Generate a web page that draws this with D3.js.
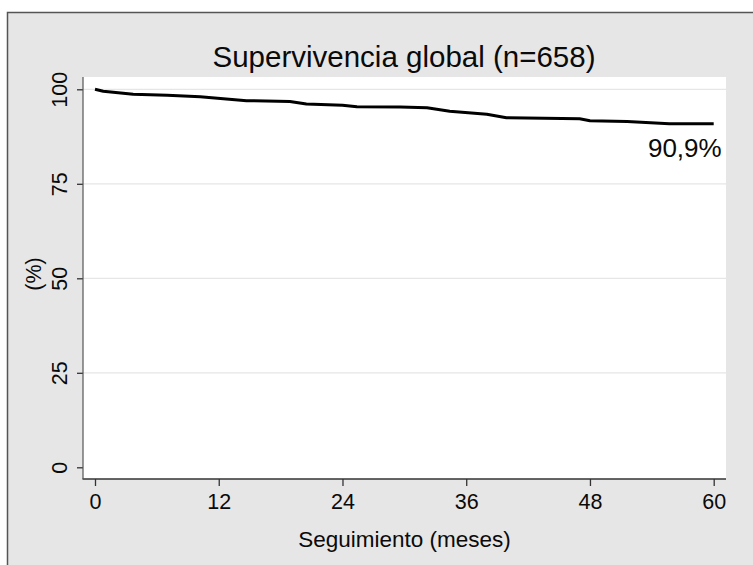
<!DOCTYPE html>
<html>
<head>
<meta charset="utf-8">
<script src="https://cdn.jsdelivr.net/npm/d3@7"></script>
<style>
body { margin: 0; background: #fff; }
text { font-family: "Liberation Sans", Arial, Helvetica, sans-serif; fill: #0a0a0a; }
</style>
</head>
<body>
<div id="chart"></div>
<script>
// survival curve
var months = [0, 0.8, 3.7, 7, 10.2, 14.7, 18.9, 20.5, 24, 25.4, 29.6, 32.2, 34.4, 38, 39.9, 47, 48, 51.6, 55.7, 60];
var survival = [100, 99.5, 98.7, 98.4, 98.0, 97.0, 96.8, 96.1, 95.8, 95.4, 95.3, 95.1, 94.2, 93.4, 92.5, 92.2, 91.7, 91.5, 90.9, 90.9];
var xTicks = [0, 12, 24, 36, 48, 60];
var yTicks = [0, 25, 50, 75, 100];
var gridTicks = [25, 50, 75, 100];
var title = 'Supervivencia global (n=658)';
var xTitle = 'Seguimiento (meses)';
var yTitle = '(%)';
var endLabel = '90,9%';

var data = months.map(function(m, i) { return { t: m, s: survival[i] }; });

var svg = d3.select('#chart').append('svg').attr('width', 753).attr('height', 565);

// graph region
svg.append('rect')
	.attr('x', 7.5).attr('y', 12.5)
	.attr('width', 760).attr('height', 570)
	.attr('fill', '#e6e6e6')
	.attr('stroke', '#555')
	.attr('stroke-width', 1.5);

var plot = { left: 83, right: 726, top: 77, bottom: 479 };

svg.append('rect')
	.attr('x', plot.left).attr('y', plot.top)
	.attr('width', plot.right - plot.left).attr('height', plot.bottom - plot.top)
	.attr('fill', '#fff');

var xScale = d3.scaleLinear().domain([0, 60]).range([95, 713.7]);
var yScale = d3.scaleLinear().domain([0, 100]).range([467.3, 89.3]);

// grid
svg.append('g').selectAll('line')
	.data(gridTicks)
	.enter().append('line')
	.attr('x1', plot.left).attr('x2', plot.right)
	.attr('y1', function(d) { return yScale(d); })
	.attr('y2', function(d) { return yScale(d); })
	.attr('stroke', '#e6e6e6')
	.attr('stroke-width', 1.2);

// axes
var xAxis = d3.axisBottom(xScale).tickValues(xTicks).tickSize(7).tickPadding(8).tickSizeOuter(0);
var yAxis = d3.axisLeft(yScale).tickValues(yTicks).tickSize(6).tickSizeOuter(0);

var xAxisG = svg.append('g')
	.attr('transform', 'translate(0,' + plot.bottom + ')')
	.call(xAxis);
xAxisG.select('.domain').remove();
xAxisG.selectAll('line').attr('stroke', '#333').attr('stroke-width', 1.3);
xAxisG.selectAll('text')
	.attr('font-size', 21.5)
	.attr('fill', '#0a0a0a')
	.attr('dy', '0.71em');

var yAxisG = svg.append('g')
	.attr('transform', 'translate(' + plot.left + ',0)')
	.call(yAxis);
yAxisG.select('.domain').remove();
yAxisG.selectAll('line').attr('stroke', '#333').attr('stroke-width', 1.3);
yAxisG.selectAll('.tick text')
	.attr('font-size', 21.5)
	.attr('fill', '#0a0a0a')
	.attr('x', null).attr('y', null).attr('dy', null)
	.attr('text-anchor', 'middle')
	.attr('transform', 'translate(-16,0) rotate(-90)');

svg.append('line')
	.attr('x1', plot.left - 0.5).attr('x2', plot.right)
	.attr('y1', plot.bottom).attr('y2', plot.bottom)
	.attr('stroke', '#333').attr('stroke-width', 1.5);
svg.append('line')
	.attr('x1', plot.left).attr('x2', plot.left)
	.attr('y1', plot.top).attr('y2', plot.bottom)
	.attr('stroke', '#555').attr('stroke-width', 1.2);

// curve
var line = d3.line()
	.x(function(d) { return xScale(d.t); })
	.y(function(d) { return yScale(d.s); });

svg.append('path')
	.attr('d', line(data))
	.attr('fill', 'none')
	.attr('stroke', '#000')
	.attr('stroke-width', 3)
	.attr('stroke-linejoin', 'round');

// texts
svg.append('text')
	.attr('x', 404).attr('y', 67)
	.attr('text-anchor', 'middle')
	.attr('font-size', 29.5)
	.text(title);

svg.append('text')
	.attr('x', 404.5).attr('y', 547)
	.attr('text-anchor', 'middle')
	.attr('font-size', 22.5)
	.text(xTitle);

svg.append('text')
	.attr('transform', 'translate(41,274) rotate(-90)')
	.attr('text-anchor', 'middle')
	.attr('font-size', 21.5)
	.text(yTitle);

var last = data[data.length - 1];
svg.append('text')
	.attr('x', xScale(last.t) + 8).attr('y', yScale(last.s) + 33)
	.attr('text-anchor', 'end')
	.attr('font-size', 26)
	.text(endLabel);
</script>
</body>
</html>
